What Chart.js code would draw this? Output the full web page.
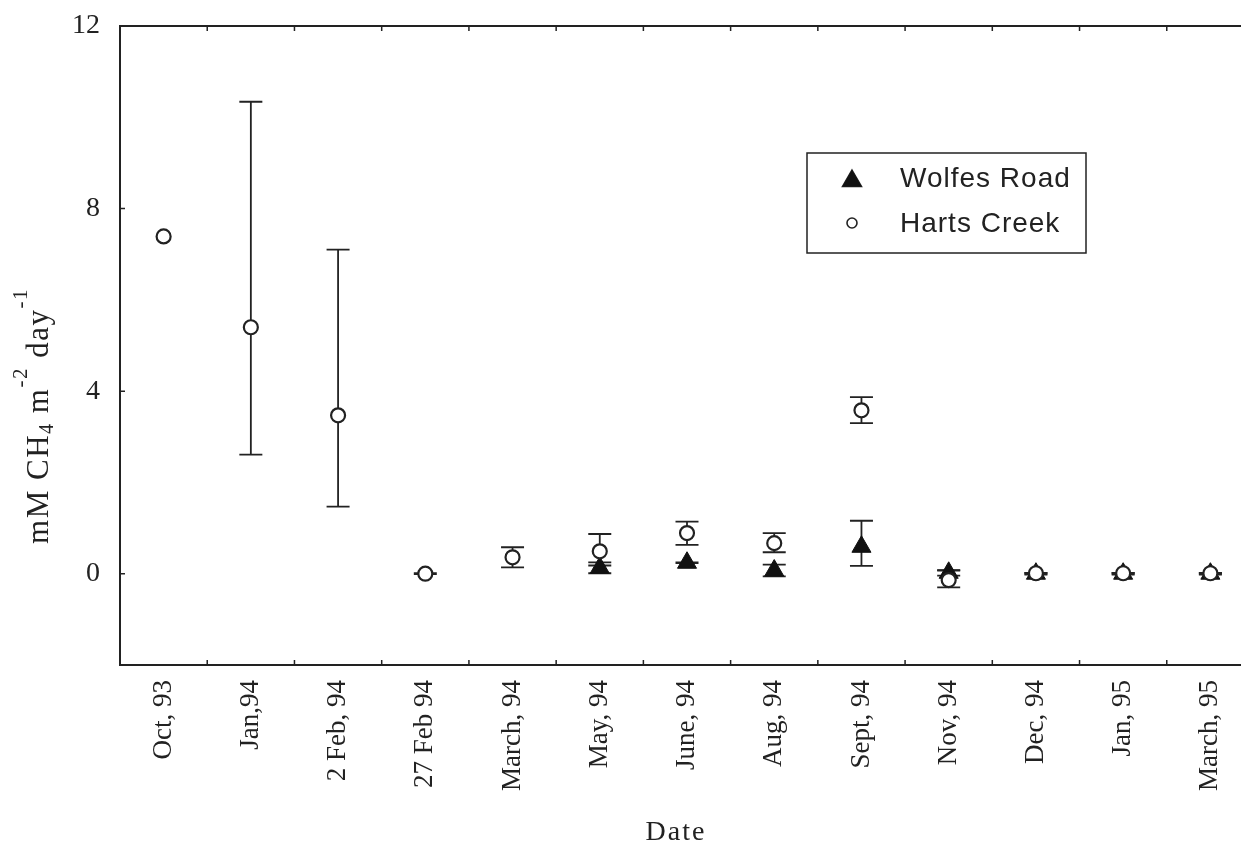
<!DOCTYPE html>
<html>
<head>
<meta charset="utf-8">
<script src="https://cdn.jsdelivr.net/npm/chart.js@4.4.1/dist/chart.umd.min.js"></script>
<style>
html,body{margin:0;padding:0;background:#fff;overflow:hidden}
#wrap{width:1266px;height:859px}
</style>
</head>
<body>
<div id="wrap"><canvas id="chart"></canvas></div>
<script>

// sampling dates along the x axis
const dates=["Oct, 93","Jan,94","2 Feb, 94","27 Feb 94","March, 94","May, 94","June, 94","Aug, 94","Sept, 94","Nov, 94","Dec, 94","Jan, 95","March, 95"]

const yTicks=[0,4,8,12]

// methane flux, mM CH4 m-2 day-1
const wolfes=[null,null,null,null,null,0.13,0.24,0.07,0.59,0.02,0.0,0.0,0.0]
const wolfesUp=[0,0,0,0,0,0.12,0.01,0.13,0.57,0.06,0.02,0.02,0.02]
const wolfesDown=[0,0,0,0,0,0.12,0.01,0.13,0.42,0.06,0.02,0.02,0.02]

const harts=[7.39,5.4,3.47,0.0,0.36,0.49,0.89,0.67,3.58,-0.14,0.01,0.01,0.01]
const hartsUp=[null,4.94,3.63,0.01,0.22,0.38,0.25,0.22,0.29,0.21,0.01,0.01,0.01]
const hartsDown=[null,2.79,2.0,0.01,0.22,0.31,0.26,0.2,0.28,0.16,0.01,0.01,0.01]

const errors=[[wolfesUp,wolfesDown],[hartsUp,hartsDown]]

const ink="#222"
const serif="'Liberation Serif', 'Times New Roman', serif"
const sans="'Liberation Sans', Arial, sans-serif"

// vertical bars with caps, drawn under the markers
const errorBars={
id:"errorBars",
beforeDatasetsDraw(chart){
const ctx=chart.ctx
const xs=chart.scales.x, ys=chart.scales.y
ctx.save()
ctx.strokeStyle=ink
ctx.lineWidth=1.8
chart.data.datasets.forEach((ds,d)=>{
const up=errors[d][0], down=errors[d][1]
ds.data.forEach((v,i)=>{
if(v==null||up[i]==null) return
const px=xs.getPixelForValue(i)
const top=ys.getPixelForValue(v+up[i])
const bot=ys.getPixelForValue(v-down[i])
ctx.beginPath()
ctx.moveTo(px,top);ctx.lineTo(px,bot)
ctx.moveTo(px-11.5,top);ctx.lineTo(px+11.5,top)
ctx.moveTo(px-11.5,bot);ctx.lineTo(px+11.5,bot)
ctx.stroke()
})
})
ctx.restore()
}
}

// frame, inward tick marks, axis titles and the boxed legend
const decorations={
id:"decorations",
afterDraw(chart){
const ctx=chart.ctx
const a=chart.chartArea
const xs=chart.scales.x, ys=chart.scales.y

ctx.save()
ctx.strokeStyle=ink
ctx.lineWidth=2
ctx.strokeRect(a.left,a.top,a.right-a.left,a.bottom-a.top)

ctx.lineWidth=1.5
ctx.beginPath()
for(let i=1;i<dates.length;i++){
const px=(xs.getPixelForValue(i-1)+xs.getPixelForValue(i))/2
ctx.moveTo(px,a.bottom);ctx.lineTo(px,a.bottom-5)
ctx.moveTo(px,a.top);ctx.lineTo(px,a.top+5)
}
yTicks.forEach(v=>{
const py=ys.getPixelForValue(v)
ctx.moveTo(a.left,py);ctx.lineTo(a.left+5,py)
})
ctx.stroke()

// y title with sub/superscripts
const parts=[["mM CH",31,0],["4",20,5],[" m",31,0],["-2",21,-21],[" day",31,0],["-1",21,-21]]
ctx.letterSpacing="1.5px"
let total=0
parts.forEach(p=>{ctx.font=p[1]+"px "+serif;total+=ctx.measureText(p[0]).width})
ctx.fillStyle=ink
ctx.textBaseline="alphabetic"
ctx.translate(48,416)
ctx.rotate(-Math.PI/2)
let x=-total/2
parts.forEach(p=>{
ctx.font=p[1]+"px "+serif
ctx.fillText(p[0],x,p[2])
x+=ctx.measureText(p[0]).width
})
ctx.setTransform(1,0,0,1,0,0)

// x title
ctx.font="28px "+serif
ctx.letterSpacing="2px"
ctx.textAlign="center"
ctx.textBaseline="middle"
ctx.fillText("Date",676,833)
ctx.letterSpacing="0px"

// legend
ctx.lineWidth=1.5
ctx.strokeRect(807,153,279,100)
const ds=chart.data.datasets
Chart.helpers.drawPoint(ctx,{pointStyle:"triangle",radius:11,rotation:0,borderWidth:1},852,181)
ctx.fillStyle="#111"
ctx.fill()
ctx.beginPath()
ctx.arc(852,223,5,0,Math.PI*2)
ctx.lineWidth=1.6
ctx.stroke()
ctx.fillStyle=ink
ctx.font="28px "+sans
ctx.letterSpacing="1px"
ctx.textAlign="left"
ctx.fillText(ds[0].label,900,179)
ctx.fillText(ds[1].label,900,224)
ctx.restore()
}
}

function noPad(s){s.paddingTop=0;s.paddingBottom=0;s.paddingLeft=0;s.paddingRight=0}

new Chart(document.getElementById("chart"),{
type:"line",
data:{
labels:dates,
datasets:[{
label:"Wolfes Road",
data:wolfes,
showLine:false,
pointStyle:"triangle",
pointRadius:11,
pointBackgroundColor:"#111",
pointBorderColor:"#111",
pointBorderWidth:1,
order:1
},{
label:"Harts Creek",
data:harts,
showLine:false,
pointStyle:"circle",
pointRadius:7,
pointBackgroundColor:"#fff",
pointBorderColor:ink,
pointBorderWidth:2.2,
order:0
}]
},
options:{
responsive:true,
maintainAspectRatio:false,
animation:false,
layout:{padding:{top:26,right:8,left:0,bottom:0}},
plugins:{legend:{display:false},tooltip:{enabled:false}},
scales:{
x:{
offset:true,
grid:{display:false,drawTicks:false},
border:{display:false},
ticks:{autoSkip:false,minRotation:90,maxRotation:90,padding:15,color:ink,font:{family:serif,size:27}},
afterFit(s){s.height=194;noPad(s)}
},
y:{
min:-2,
max:12,
grid:{display:false,drawTicks:false},
border:{display:false},
afterBuildTicks(s){s.ticks=yTicks.map(v=>({value:v}))},
ticks:{padding:20,color:ink,font:{family:serif,size:28}},
afterFit(s){s.width=120;noPad(s)}
}
}
},
plugins:[errorBars,decorations]
})
</script>
</body>
</html>
